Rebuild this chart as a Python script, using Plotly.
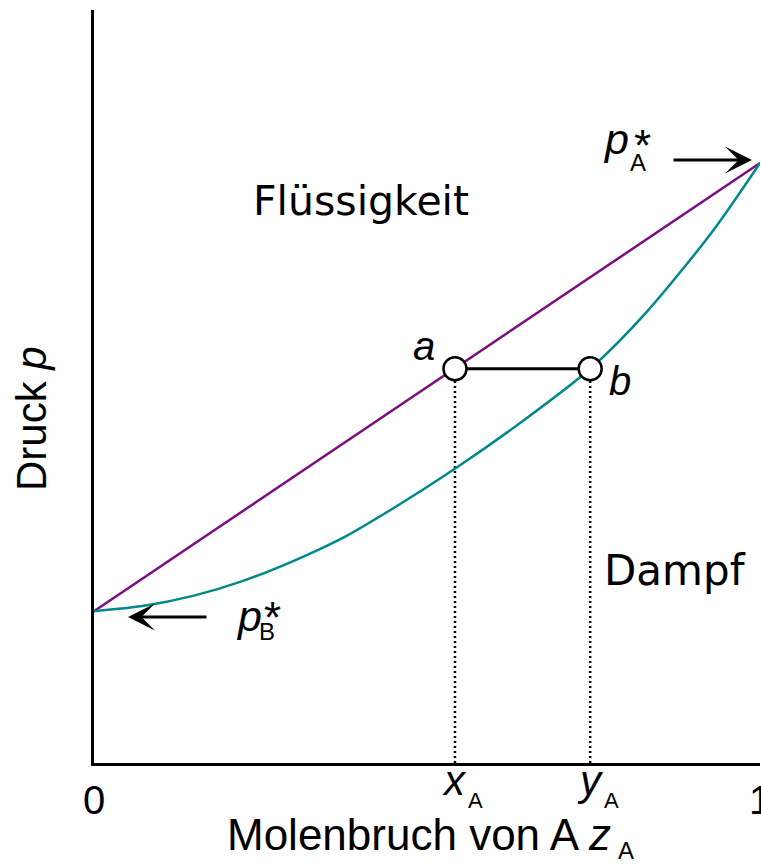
import plotly.graph_objects as go

# ---------------- data ----------------
# liquid line (Raoult): pressure vs mole fraction of A
liquid_x = [0.0, 1.0]
liquid_p = [0.253, 1.0]

# vapour curve
vapour_x = [0.0, 0.075, 0.15, 0.225, 0.30, 0.375, 0.45, 0.544, 0.65, 0.745, 0.83, 0.93, 1.0]
vapour_p = [0.253, 0.262, 0.279, 0.304, 0.337, 0.376, 0.425, 0.492, 0.575, 0.657, 0.752, 0.888, 1.0]

# tie line a-b
x_A = 0.542
y_A = 0.745
p_tie = 0.657

tick_vals = [0, 1]
tick_text = ["0", "1"]

# ---------------- figure geometry ----------------
W, H = 761, 866
ML, MR, MT, MB = 94, 1, 10, 103
PW, PH = W - ML - MR, H - MT - MB
Y_MAX = 1.255

def paper(px, py):
    return (px - ML) / PW, (H - MB - py) / PH

PURPLE = "#7d0e80"
TEAL = "#00898b"
SANS = "Liberation Sans, Arial, sans-serif"
WIDE = "DejaVu Sans, sans-serif"

fig = go.Figure()

# dotted drop lines
for xv in (x_A, y_A):
    fig.add_trace(go.Scatter(x=[xv, xv], y=[0, p_tie], mode="lines",
                             line=dict(color="black", width=2.5, dash="2px,3px"),
                             hoverinfo="skip", showlegend=False))

fig.add_trace(go.Scatter(x=liquid_x, y=liquid_p, mode="lines",
                         line=dict(color=PURPLE, width=2.5),
                         showlegend=False))
fig.add_trace(go.Scatter(x=vapour_x, y=vapour_p, mode="lines",
                         line=dict(color=TEAL, width=2.5, shape="spline", smoothing=0.8),
                         showlegend=False))
fig.add_trace(go.Scatter(x=[x_A, y_A], y=[p_tie, p_tie], mode="lines+markers",
                         line=dict(color="black", width=3),
                         marker=dict(size=23, color="white",
                                     line=dict(color="black", width=2.5)),
                         showlegend=False))

ann = []

def text(px, py, s, size, font=SANS, xanchor="center", angle=0):
    xp, yp = paper(px, py)
    ann.append(dict(x=xp, y=yp, xref="paper", yref="paper", text=s,
                    showarrow=False, xanchor=xanchor, yanchor="middle",
                    textangle=angle, borderpad=0,
                    font=dict(size=size, family=font, color="black")))

# region labels
text(361, 201, "Flüssigkeit", 41, WIDE)
text(675, 570, "Dampf", 42, WIDE)

# point labels
ann.append(dict(x=x_A, y=p_tie, xref="x", yref="y", text="<i>a</i>", showarrow=False,
                xshift=-31, yshift=23, font=dict(size=40, family=SANS, color="black")))
ann.append(dict(x=y_A, y=p_tie, xref="x", yref="y", text="<i>b</i>", showarrow=False,
                xshift=30, yshift=-12, font=dict(size=40, family=SANS, color="black")))

# axis-composition labels
for xv, letter in ((x_A, "x"), (y_A, "y")):
    ann.append(dict(x=xv, y=paper(0, 780)[1], xref="x", yref="paper",
                    text="<i>%s</i>" % letter, showarrow=False, yanchor="middle",
                    borderpad=0, font=dict(size=42, family=SANS, color="black")))
    ann.append(dict(x=xv, y=paper(0, 800)[1], xref="x", yref="paper", text="A",
                    showarrow=False, yanchor="middle", xshift=21, borderpad=0,
                    font=dict(size=22, family=SANS, color="black")))

# p_A*
text(616, 139, "<i>p</i>", 43)
text(642, 146, "*", 44)
text(638, 162, "A", 24)
# p_B*
text(249, 616, "<i>p</i>", 43)
text(272, 617, "*", 44)
text(267, 631, "B", 24)

# arrows
for tipx, tipy, dx in ((752, 160, -80), (128, 617, 80)):
    xp, yp = paper(tipx, tipy)
    ann.append(dict(x=xp, y=yp, xref="paper", yref="paper", text="",
                    showarrow=True, ax=dx, ay=0, axref="pixel", ayref="pixel",
                    arrowhead=3, arrowsize=1.5, arrowwidth=3, arrowcolor="black",
                    standoff=0))

# axis titles
text(226, 835, "Molenbruch von A <i>z</i>", 44, xanchor="left")
text(626, 851, "A", 24)
text(32, 419, "Druck <i>p</i>", 42, angle=-90)

fig.update_layout(
    width=W, height=H,
    margin=dict(l=ML, r=MR, t=MT, b=MB, autoexpand=False),
    paper_bgcolor="white", plot_bgcolor="white",
    showlegend=False,
    annotations=ann,
    xaxis=dict(range=[0, 1], showgrid=False, zeroline=False,
               showline=True, linecolor="black", linewidth=3,
               ticks="", tickvals=tick_vals, ticktext=tick_text,
               tickfont=dict(size=40, family=SANS, color="black"),
               ticklabelstandoff=0, ticklabeloverflow="allow",
               automargin=False, fixedrange=True),
    yaxis=dict(range=[0, Y_MAX], showgrid=False, zeroline=False,
               showline=True, linecolor="black", linewidth=3,
               ticks="", showticklabels=False, automargin=False, fixedrange=True),
)

fig.write_html("out.html")
